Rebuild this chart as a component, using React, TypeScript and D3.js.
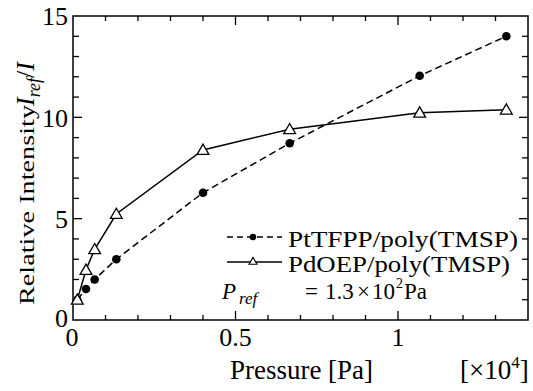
import React, { useEffect, useRef } from "react";
import * as d3 from "d3";

// pressure in units of 10^4 Pa
const pressure = [0.0133, 0.04, 0.0667, 0.1333, 0.4, 0.6667, 1.0667, 1.3333];
const ptTFPP = [1.0, 1.53, 2.0, 3.0, 6.28, 8.72, 12.05, 14.0];
const pdOEP = [1.0, 2.47, 3.49, 5.23, 8.39, 9.41, 10.23, 10.38];
const xTickLabels = ["0", "0.5", "1"];
const yTickLabels = ["0", "5", "10", "15"];
const legendNames = ["PtTFPP/poly(TMSP)", "PdOEP/poly(TMSP)"];

const FONT = "'Liberation Serif', 'Times New Roman', serif";

const App = () => {
  const svgRef = useRef<SVGSVGElement>(null);

  useEffect(() => {
    const width = 533;
    const height = 391;
    const margin = { top: 16, right: 5, bottom: 71, left: 73 };
    const w = width - margin.left - margin.right;
    const h = height - margin.top - margin.bottom;

    const svg = d3.select(svgRef.current);
    svg.selectAll("*").remove();
    svg.attr("width", width).attr("height", height).attr("font-family", FONT);

    const x = d3.scaleLinear().domain([0, 1.4]).range([margin.left, margin.left + w]);
    const y = d3.scaleLinear().domain([0, 15]).range([margin.top + h, margin.top]);

    // frame
    svg
      .append("rect")
      .attr("x", margin.left)
      .attr("y", margin.top)
      .attr("width", w)
      .attr("height", h)
      .attr("fill", "none")
      .attr("stroke", "#000")
      .attr("stroke-width", 1.5);

    // inward ticks on all sides
    const ticks = svg.append("g").attr("stroke", "#000").attr("stroke-width", 1.3);
    const xt = d3.range(1, 14).map((i) => i / 10);
    xt.forEach((v) => {
      const major = Math.abs(v - 0.5) < 1e-6 || Math.abs(v - 1) < 1e-6;
      const len = major ? 9 : 5;
      ticks.append("line").attr("x1", x(v)).attr("x2", x(v)).attr("y1", y(0)).attr("y2", y(0) - len);
      ticks.append("line").attr("x1", x(v)).attr("x2", x(v)).attr("y1", y(15)).attr("y2", y(15) + len);
    });
    d3.range(1, 15).forEach((v) => {
      const major = v % 5 === 0;
      const len = major ? 9 : 6;
      ticks.append("line").attr("x1", x(0)).attr("x2", x(0) + len).attr("y1", y(v)).attr("y2", y(v));
      ticks.append("line").attr("x1", x(1.4)).attr("x2", x(1.4) - len).attr("y1", y(v)).attr("y2", y(v));
    });

    // tick labels
    const labels = svg.append("g").attr("fill", "#000");
    yTickLabels.forEach((t) => {
      labels
        .append("text")
        .attr("x", margin.left - 5)
        .attr("y", y(+t) - (t === "0" ? 2 : 0))
        .attr("dy", "0.36em")
        .attr("text-anchor", "end")
        .attr("font-size", 26)
        .text(t);
    });
    xTickLabels.forEach((t) => {
      labels
        .append("text")
        .attr("x", x(+t) - (t === "0" ? 1 : 0))
        .attr("y", 346)
        .attr("text-anchor", "middle")
        .attr("font-size", 26)
        .text(t);
    });

    // axis titles
    labels
      .append("text")
      .attr("x", 230)
      .attr("y", 379)
      .attr("font-size", 27)
      .attr("textLength", 143)
      .attr("lengthAdjust", "spacingAndGlyphs")
      .text("Pressure [Pa]");
    const mult = labels.append("text").attr("x", 460).attr("y", 379).attr("font-size", 27);
    mult.append("tspan").text("[×10");
    mult.append("tspan").attr("font-size", 17).attr("dy", -11).text("4");
    mult.append("tspan").attr("dy", 11).text("]");

    const yl = labels.append("g").attr("transform", "translate(34,305) rotate(-90)");
    yl.append("text")
      .attr("font-size", 22)
      .attr("textLength", 200)
      .attr("lengthAdjust", "spacingAndGlyphs")
      .text("Relative Intensity");
    const yl2 = yl.append("text").attr("x", 199).attr("font-size", 26).attr("font-style", "italic");
    yl2.append("tspan").text("I");
    yl2.append("tspan").attr("font-size", 18).attr("dy", 6).text("ref");
    yl2.append("tspan").attr("dy", -6).attr("font-style", "normal").text("/");
    yl2.append("tspan").text("I");

    // lines
    const line = d3
      .line<[number, number]>()
      .x((d) => x(d[0]))
      .y((d) => y(d[1]));

    svg
      .append("path")
      .attr("d", line(pressure.map((p, i) => [p, ptTFPP[i]]))!)
      .attr("fill", "none")
      .attr("stroke", "#000")
      .attr("stroke-width", 1.5)
      .attr("stroke-dasharray", "7,4");
    svg
      .append("path")
      .attr("d", line(pressure.map((p, i) => [p, pdOEP[i]]))!)
      .attr("fill", "none")
      .attr("stroke", "#000")
      .attr("stroke-width", 1.5);

    const tri = d3.symbol().type(d3.symbolTriangle);

    svg
      .append("g")
      .selectAll("circle")
      .data(pressure.map((p, i) => [p, ptTFPP[i]]))
      .join("circle")
      .attr("cx", (d) => x(d[0]))
      .attr("cy", (d) => y(d[1]))
      .attr("r", 4.3)
      .attr("fill", "#000");
    svg
      .append("g")
      .selectAll("path")
      .data(pressure.map((p, i) => [p, pdOEP[i]]))
      .join("path")
      .attr("d", tri.size(60)()!)
      .attr("transform", (d) => `translate(${x(d[0])},${y(d[1]) + 1})`)
      .attr("fill", "#fff")
      .attr("stroke", "#000")
      .attr("stroke-width", 1.3);

    // legend
    const lg = svg.append("g");
    const rows = [237, 262];
    rows.forEach((ry, i) => {
      lg.append("line")
        .attr("x1", 227)
        .attr("x2", 282)
        .attr("y1", ry)
        .attr("y2", ry)
        .attr("stroke", "#000")
        .attr("stroke-width", 1.3)
        .attr("stroke-dasharray", i === 0 ? "6,4" : null);
      if (i === 0) {
        lg.append("circle").attr("cx", 253).attr("cy", ry).attr("r", 3.3).attr("fill", "#000");
      } else {
        lg.append("path")
          .attr("d", tri.size(28)()!)
          .attr("transform", `translate(253,${ry})`)
          .attr("fill", "#fff")
          .attr("stroke", "#000")
          .attr("stroke-width", 1.1);
      }
      lg.append("text")
        .attr("x", 288)
        .attr("y", ry + 10)
        .attr("font-size", 24)
        .attr("textLength", i === 0 ? 230 : 222)
        .attr("lengthAdjust", "spacingAndGlyphs")
        .text(legendNames[i]);
    });

    // P_ref note, pieces placed along the row
    const prY = 299;
    const pr = lg.append("g").attr("font-size", 23);
    const p = pr.append("text").attr("x", 222).attr("y", prY).attr("font-style", "italic");
    p.append("tspan").text("P");
    p.append("tspan").attr("font-size", 17).attr("dx", 3).attr("dy", 5).text("ref");
    pr.append("text").attr("x", 305).attr("y", prY).text("=");
    pr.append("text").attr("x", 325).attr("y", prY).text("1.3");
    pr.append("text").attr("x", 357).attr("y", prY).text("×");
    pr.append("text").attr("x", 372).attr("y", prY).text("10");
    pr.append("text").attr("x", 396).attr("y", prY - 11).attr("font-size", 14).text("2");
    pr.append("text").attr("x", 404).attr("y", prY).text("Pa");
  }, []);

  return (
    <svg
      ref={svgRef}
      style={{ position: "absolute", left: 0, top: 0, background: "#fff" }}
    />
  );
};

export default App;
